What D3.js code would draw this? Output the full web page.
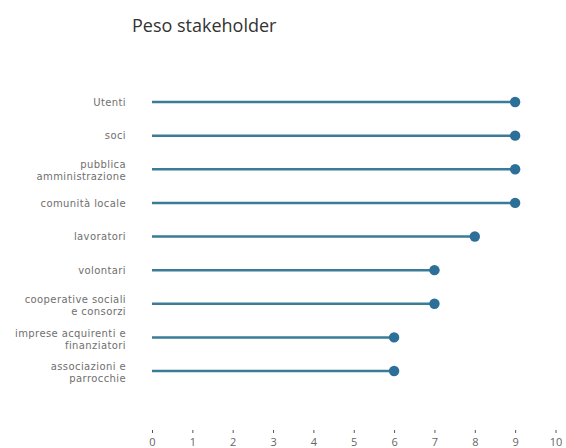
<!DOCTYPE html>
<html><head><meta charset="utf-8">
<script src="https://cdn.jsdelivr.net/npm/d3@7"></script>
<style>body{margin:0;background:#fff}svg{display:block}</style>
</head><body>
<svg id="c" width="566" height="448"></svg>
<script>
const categories = ["Utenti","soci","pubblica\namministrazione","comunità locale","lavoratori","volontari","cooperative sociali\ne consorzi","imprese acquirenti e\nfinanziatori","associazioni e\nparrocchie"];
const values = [9,9,9,9,8,7,7,6,6];
const xTicks = [0,1,2,3,4,5,6,7,8,9,10];
const title = "Peso stakeholder";

const svg = d3.select("#c");
const font = "'Open Sans', 'DejaVu Sans', sans-serif";
const labelFont = "'DejaVu Sans', sans-serif";
const x = d3.scaleLinear().domain([0,10]).range([152,555.5]);
const y = d3.scalePoint().domain(categories).range([102,371]);

svg.append("text").attr("x",132).attr("y",32).attr("font-family",font)
  .attr("font-size",18).attr("fill","#333").text(title);

const g = svg.append("g");
categories.forEach((c,i)=>{
  const cy = y(c);
  g.append("line").attr("x1",x(0)).attr("x2",x(values[i])).attr("y1",cy).attr("y2",cy)
    .attr("stroke","#3a7c97").attr("stroke-width",2.5);
  g.append("circle").attr("cx",x(values[i])).attr("cy",cy).attr("r",5.2).attr("fill","#2c6f98");
  const lines = c.split("\n");
  const lh = 12;
  const n = lines.length;
  const y0 = cy + 3.7 - (n-1)*lh/2 + (n-1)*1.5;
  lines.forEach((l,k)=>g.append("text").attr("text-anchor","end").attr("font-family",labelFont)
    .attr("font-size",10).attr("letter-spacing",0.4).attr("fill","#6f6f6f")
    .attr("x",126).attr("y",y0+k*lh).text(l));
});

const ax = svg.append("g").attr("transform","translate(0,430)")
  .call(d3.axisBottom(x).tickValues(xTicks).tickSize(3).tickPadding(5).tickFormat(d3.format("d")));
ax.select(".domain").remove();
ax.selectAll(".tick line").attr("stroke","#555");
ax.selectAll(".tick text").attr("font-family",font).attr("font-size",11).attr("fill","#666");
</script>
</body></html>
